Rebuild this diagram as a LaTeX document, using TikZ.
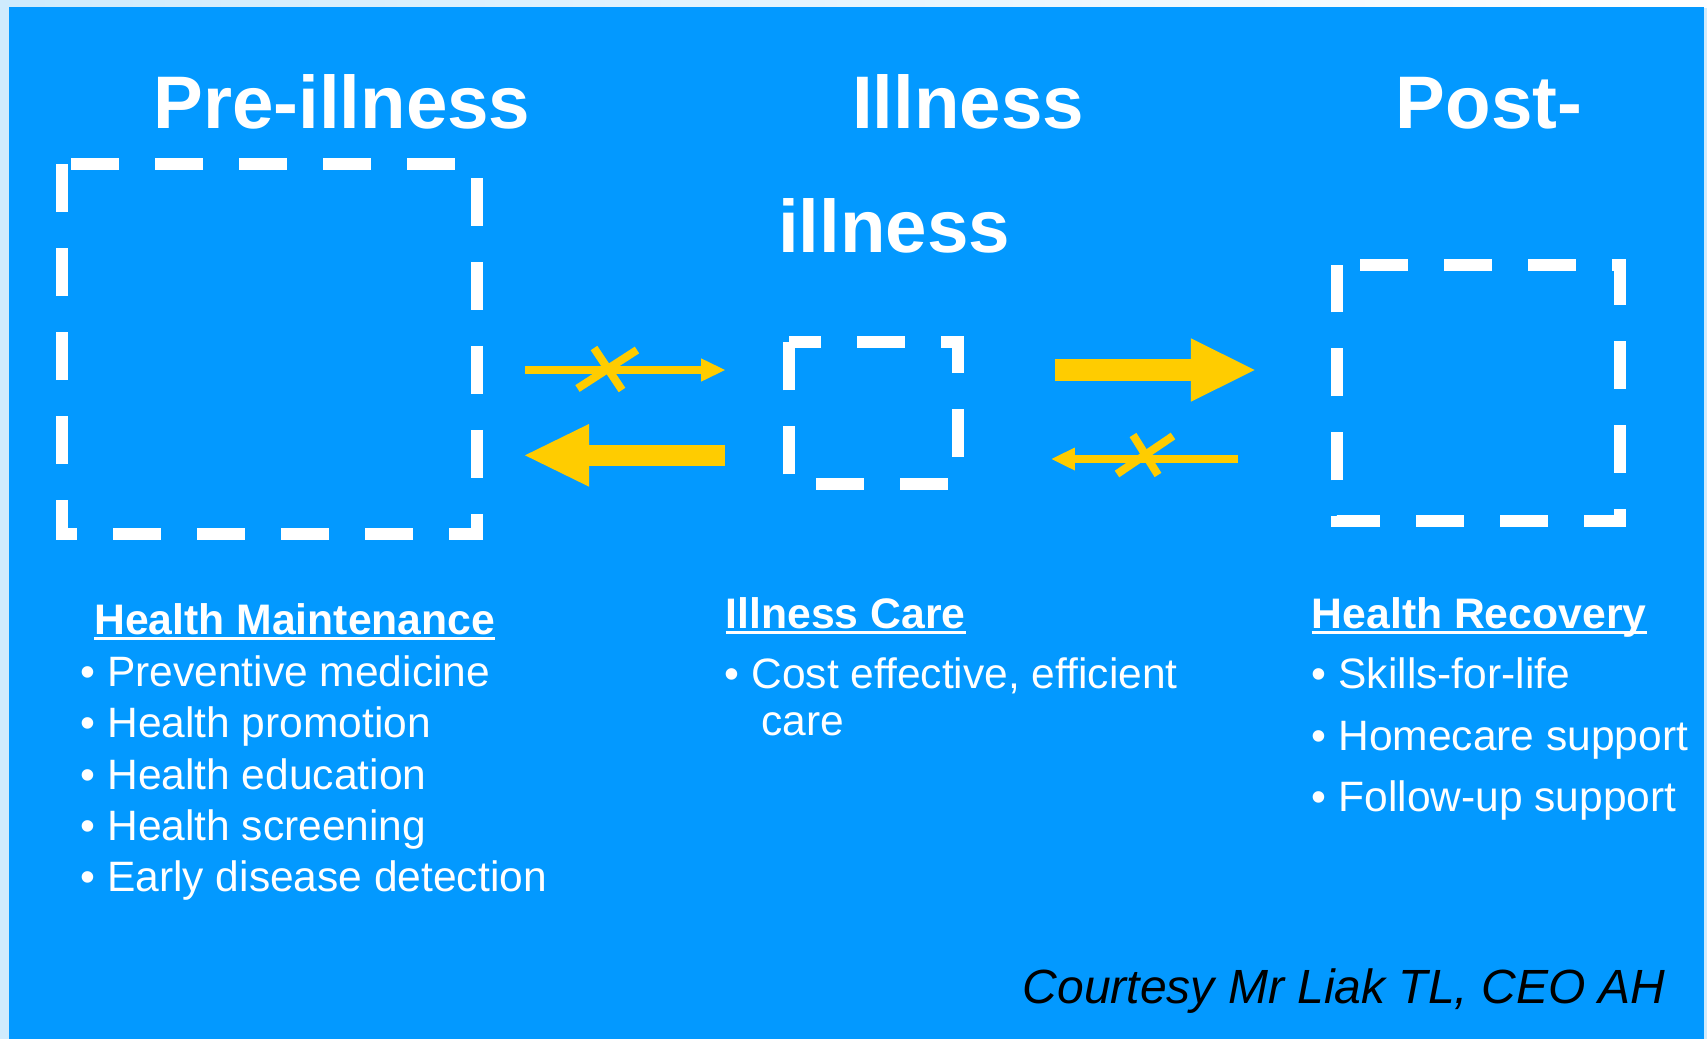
\documentclass[tikz,border=0pt]{standalone}
\usepackage{fontspec}
\setmainfont{Liberation Sans}
\usetikzlibrary{arrows.meta,calc}
\definecolor{bgblue}{RGB}{3,153,255}
\definecolor{frameblue}{RGB}{207,235,253}
\definecolor{arrowyellow}{RGB}{255,204,0}
\begin{document}
\begin{tikzpicture}[x=1pt,y=-1pt,
  dashbox/.style={draw=white,line width=12pt,dash pattern=on 48pt off 36pt,line join=miter},
  title/.style={anchor=base west,inner sep=0pt,text=white,font=\fontsize{74.5}{74.5}\selectfont\bfseries},
  heading/.style={anchor=base west,inner sep=0pt,text=white,font=\fontsize{42.7}{42.7}\selectfont\bfseries},
  item/.style={anchor=base west,inner sep=0pt,text=white,font=\fontsize{42.5}{42.5}\selectfont},
  ulink/.style={draw=white,line width=3pt},
  cross/.style={draw=arrowyellow,line width=8pt}]
\useasboundingbox (0,0) rectangle (1707,1039);
\fill[frameblue] (0,0) rectangle (1707,1039);
\shade[left color=frameblue,right color=white!97!frameblue] (0,0) rectangle (1707,7);
\fill[bgblue] (9,7) rectangle (1704,1039);

% dashed boxes
\draw[dashbox,dash phase=74.7pt] (62,163.5) -- (477,163.5) -- (477,533.5) -- (62,533.5) -- cycle;
\draw[dashbox,dash phase=16pt] (789,341.7) -- (957.5,341.7) -- (957.5,483.5) -- (789,483.5) -- cycle;
\draw[dashbox,dash phase=60.7pt] (1336.7,265) -- (1620,265) -- (1620,521) -- (1336.7,521) -- cycle;

% arrows
\coordinate (a1s) at (525,370);
\coordinate (a1e) at (725,370);
\coordinate (a2s) at (725,455.3);
\coordinate (a2e) at (525,455.3);
\coordinate (a3s) at (1055,370);
\coordinate (a3e) at (1254.7,370);
\coordinate (a4s) at (1238,459);
\coordinate (a4e) at (1051.6,459);
\draw[arrowyellow,line width=8pt,-{Triangle[length=24pt,width=23.4pt,line width=0pt]}] (a1s) -- (a1e);
\draw[arrowyellow,line width=20.7pt,-{Triangle[length=64pt,width=62.7pt,line width=0pt]}] (a2s) -- (a2e);
\draw[arrowyellow,line width=21.3pt,-{Triangle[length=63.8pt,width=63.4pt,line width=0pt]}] (a3s) -- (a3e);
\draw[arrowyellow,line width=8pt,-{Triangle[length=23.2pt,width=23pt,line width=0pt]}] (a4s) -- (a4e);

% crosses
\coordinate (x1) at (607,369);
\draw[cross] ($(x1)+(-13,-21)$) -- ($(x1)+(15,21)$);
\draw[cross] ($(x1)+(30,-19)$) -- ($(x1)+(-29.5,19.5)$);
\coordinate (x2) at (1145,455);
\draw[cross] ($(x2)+(-12,-20)$) -- ($(x2)+(13,20)$);
\draw[cross] ($(x2)+(28,-19)$) -- ($(x2)+(-28,19)$);

% titles
\node[title] (pre) at (153.3,128.3) {Pre-illness};
\node[title] (ill1) at (852,128.5) {Illness};
\node[title] (ill2) at (777.9,252.6) {illness};
\node[title] (post) at (1395.6,128.3) {Post-};

% Health Maintenance
\node[heading] (hm) at (94,634) {Health Maintenance};
\draw[ulink] ($(hm.base west)+(0,4.7)$) -- ($(hm.base east)+(0,4.7)$);
\node[item] (hm1) at (80.5,686.7) {• Preventive medicine};
\node[item] (hm2) at (80.5,737.7) {• Health promotion};
\node[item] (hm3) at (80.5,789.3) {• Health education};
\node[item] (hm4) at (80.5,840.7) {• Health screening};
\node[item] (hm5) at (80.5,891.7) {• Early disease detection};

% Illness Care
\node[heading] (ic) at (725.6,628.3) {Illness Care};
\draw[ulink] ($(ic.base west)+(0,4.4)$) -- ($(ic.base east)+(0,4.4)$);
\node[item] (ic1) at (724.7,688.3) {• Cost effective, efficient};
\node[item] (ic2) at (761,735) {care};

% Health Recovery
\node[heading] (hr) at (1311.6,628.3) {Health Recovery};
\draw[ulink] ($(hr.base west)+(0,4.4)$) -- ($(hr.base east)+(0,4.4)$);
\node[item] (hr1) at (1311.7,688.3) {• Skills-for-life};
\node[item] (hr2) at (1311.7,750) {• Homecare support};
\node[item] (hr3) at (1311.7,811) {• Follow-up support};

% courtesy
\node[anchor=base west,inner sep=0pt,text=black,font=\fontsize{48}{48}\selectfont\itshape] (court) at (1022.6,1003) {Courtesy Mr Liak TL, CEO AH};
\end{tikzpicture}
\end{document}
